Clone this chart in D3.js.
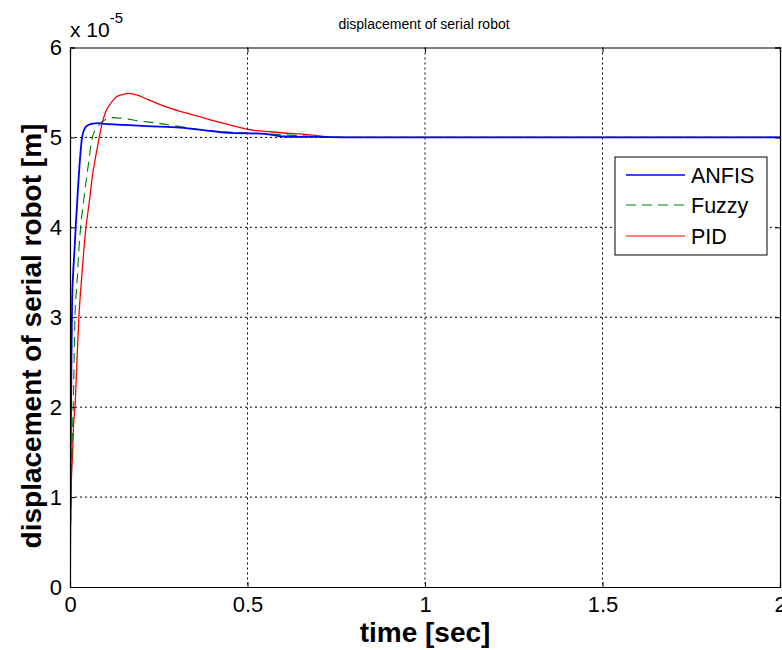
<!DOCTYPE html>
<html>
<head>
<meta charset="utf-8">
<script src="https://cdn.jsdelivr.net/npm/d3@7"></script>
<style>
  body { margin: 0; background: #fff; }
  text { font-family: "Liberation Sans", Arial, sans-serif; fill: #000; }
</style>
</head>
<body>
<svg id="chart" width="782" height="650"></svg>
<script>
// Step response of the serial robot under three controllers (values in units of 1e-5 m)
const anfisT = [0, 0.001, 0.002, 0.004, 0.006, 0.009, 0.012, 0.016, 0.022, 0.028, 0.034, 0.045, 0.06, 0.08, 0.1, 0.15, 0.216, 0.31, 0.4, 0.45, 0.55, 0.6, 0.7, 0.8, 1.0, 1.5, 2.0];
const anfisV = [0, 0.8, 1.5, 2.5, 3.2, 3.5, 3.7, 4.0, 4.4, 4.75, 5.0, 5.12, 5.15, 5.16, 5.15, 5.14, 5.125, 5.11, 5.07, 5.05, 5.04, 5.01, 5.005, 5.0, 5.0, 5.0, 5.0];

const fuzzyT = [0, 0.001, 0.003, 0.006, 0.009, 0.014, 0.02, 0.025, 0.03, 0.04, 0.05, 0.063, 0.08, 0.1, 0.12, 0.15, 0.2, 0.244, 0.31, 0.4, 0.5, 0.6, 0.7, 0.8, 1.0, 1.5, 2.0];
const fuzzyV = [0, 0.5, 1.0, 1.6, 2.0, 3.0, 3.4, 3.75, 4.0, 4.35, 4.65, 5.0, 5.13, 5.2, 5.22, 5.21, 5.18, 5.16, 5.12, 5.07, 5.05, 5.03, 5.01, 5.0, 5.0, 5.0, 5.0];

const pidT = [0, 0.002, 0.004, 0.007, 0.01, 0.014, 0.019, 0.025, 0.032, 0.039, 0.045, 0.055, 0.063, 0.072, 0.08, 0.09, 0.1, 0.115, 0.13, 0.15, 0.165, 0.19, 0.22, 0.263, 0.31, 0.357, 0.4, 0.45, 0.5, 0.57, 0.67, 0.76, 1.0, 1.5, 2.0];
const pidV = [0.5, 0.8, 1.2, 1.45, 1.8, 2.0, 2.45, 3.0, 3.4, 3.75, 4.0, 4.3, 4.57, 4.78, 4.95, 5.15, 5.28, 5.38, 5.45, 5.48, 5.49, 5.47, 5.42, 5.35, 5.29, 5.24, 5.19, 5.14, 5.09, 5.06, 5.03, 5.0, 5.0, 5.0, 5.0];

const xTicks = [0, 0.5, 1, 1.5, 2];
const xTickLabels = ["0", "0.5", "1", "1.5", "2"];
const yTicks = [0, 1, 2, 3, 4, 5, 6];
const yTickLabels = ["0", "1", "2", "3", "4", "5", "6"];

const seriesNames = ["ANFIS", "Fuzzy", "PID"];
const seriesColors = ["#0000ff", "#008000", "#ff0000"];
const seriesDash = [null, "10,6", null];
const seriesWidth = [1.8, 1.1, 1.3];

const svg = d3.select("#chart");
const L = 70, R = 780, T = 47.5, B = 587;

const x = d3.scaleLinear().domain([0, 2]).range([L, R]);
const y = d3.scaleLinear().domain([0, 6]).range([B, T]);

// Grid
const grid = svg.append("g");
grid.selectAll(".gx").data(xTicks.slice(1, -1)).enter().append("line")
  .attr("x1", d => x(d)).attr("x2", d => x(d)).attr("y1", T).attr("y2", B)
  .attr("stroke", "#000").attr("stroke-width", 1).attr("stroke-dasharray", "2,3");
grid.selectAll(".gy").data(yTicks.slice(1, -1)).enter().append("line")
  .attr("y1", d => y(d)).attr("y2", d => y(d)).attr("x1", L).attr("x2", R)
  .attr("stroke", "#000").attr("stroke-width", 1).attr("stroke-dasharray", "2,3");

// Series
const seriesData = [
  anfisT.map((t, i) => [t, anfisV[i]]),
  fuzzyT.map((t, i) => [t, fuzzyV[i]]),
  pidT.map((t, i) => [t, pidV[i]])
];
const line = d3.line().x(d => x(d[0])).y(d => y(d[1])).curve(d3.curveMonotoneX);
svg.append("clipPath").attr("id", "clip").append("rect")
  .attr("x", L).attr("y", T).attr("width", R - L).attr("height", B - T);
// PID first, then Fuzzy, then ANFIS on top
[2, 1, 0].forEach(i => {
  svg.append("path").datum(seriesData[i])
    .attr("clip-path", "url(#clip)")
    .attr("d", line)
    .attr("fill", "none")
    .attr("stroke", seriesColors[i])
    .attr("stroke-width", seriesWidth[i])
    .attr("stroke-dasharray", seriesDash[i]);
});

// Axes (ticks inward, box on all sides)
const xAxisB = d3.axisBottom(x).tickValues(xTicks).tickSize(-5).tickPadding(9).tickFormat((d, i) => xTickLabels[i]);
const xAxisT = d3.axisTop(x).tickValues(xTicks).tickSize(-5).tickFormat("");
const yAxisL = d3.axisLeft(y).tickValues(yTicks).tickSize(-5).tickPadding(8).tickFormat((d, i) => yTickLabels[i]);
const yAxisR = d3.axisRight(y).tickValues(yTicks).tickSize(-5).tickFormat("");

function styleAxis(g) {
  g.select(".domain").attr("stroke", "#000").attr("stroke-width", 1.2);
  g.selectAll(".tick line").attr("stroke", "#000");
  g.selectAll(".tick text").style("font-size", "22px").attr("fill", "#000");
}
svg.append("g").attr("transform", `translate(0,${B})`).call(xAxisB).call(styleAxis);
svg.append("g").attr("transform", `translate(0,${T})`).call(xAxisT).call(styleAxis);
svg.append("g").attr("transform", `translate(${L},0)`).call(yAxisL).call(styleAxis);
svg.append("g").attr("transform", `translate(${R},0)`).call(yAxisR).call(styleAxis);

// Exponent multiplier
const mult = svg.append("text").attr("x", 70).attr("y", 37).style("font-size", "21px");
mult.append("tspan").text("x 10");
mult.append("tspan").attr("dy", -14).style("font-size", "15px").text("-5");

// Title and axis labels
svg.append("text").attr("x", 424).attr("y", 29).attr("text-anchor", "middle")
  .style("font-size", "14px").text("displacement of serial robot");
svg.append("text").attr("x", 425).attr("y", 642).attr("text-anchor", "middle")
  .style("font-size", "28px").style("font-weight", "bold").text("time [sec]");
svg.append("text").attr("transform", `translate(41,336) rotate(-90)`).attr("text-anchor", "middle")
  .style("font-size", "28px").style("font-weight", "bold").text("displacement of serial robot [m]");

// Legend
const lg = svg.append("g");
lg.append("rect").attr("x", 615).attr("y", 157).attr("width", 152).attr("height", 98)
  .attr("fill", "#fff").attr("stroke", "#000").attr("stroke-width", 1);
const rowsY = [175, 205, 236];
seriesNames.forEach((name, i) => {
  lg.append("line").attr("x1", 626).attr("x2", 685).attr("y1", rowsY[i]).attr("y2", rowsY[i])
    .attr("stroke", seriesColors[i]).attr("stroke-width", i === 0 ? 1.5 : 1.1)
    .attr("stroke-dasharray", seriesDash[i]);
  lg.append("text").attr("x", 691).attr("y", rowsY[i] + 8).style("font-size", "21.5px").text(name);
});
</script>
</body>
</html>
